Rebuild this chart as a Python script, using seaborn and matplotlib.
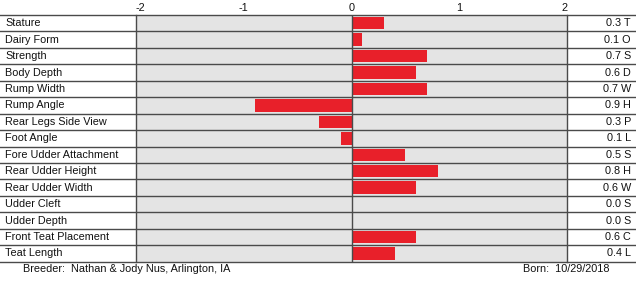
import matplotlib
matplotlib.use("Agg")
import matplotlib.pyplot as plt
import matplotlib.transforms as mtransforms
import seaborn as sns
import pandas as pd

traits = ["Stature", "Dairy Form", "Strength", "Body Depth", "Rump Width",
          "Rump Angle", "Rear Legs Side View", "Foot Angle",
          "Fore Udder Attachment", "Rear Udder Height", "Rear Udder Width",
          "Udder Cleft", "Udder Depth", "Front Teat Placement", "Teat Length"]
values = [0.3, 0.1, 0.7, 0.6, 0.7, -0.9, -0.3, -0.1, 0.5, 0.8, 0.6,
          0.0, 0.0, 0.6, 0.4]
right_labels = ["0.3 T", "0.1 O", "0.7 S", "0.6 D", "0.7 W", "0.9 H", "0.3 P",
                "0.1 L", "0.5 S", "0.8 H", "0.6 W", "0.0 S", "0.0 S", "0.6 C",
                "0.4 L"]
xticks = [-2, -1, 0, 1, 2]
breeder = "Breeder:  Nathan & Jody Nus, Arlington, IA"
born = "Born:  10/29/2018"

plt.rcParams['font.family'] = ['Liberation Sans', 'DejaVu Sans']
FS = 7.8
LINE = "#4a4a4a"

W, H = 636, 281
fig = plt.figure(figsize=(W / 100, H / 100), dpi=100)
ax = fig.add_axes([136 / W, 1 - 261.7 / H, (567 - 136) / W, (261.7 - 15) / H])
ax.set_facecolor("#e4e4e4")

df = pd.DataFrame({"trait": traits, "value": values})
sns.barplot(data=df, x="value", y="trait", orient="h", color="#e8202a",
            saturation=1, width=0.76, ax=ax, linewidth=0)

ax.set_xlim(-2, 2)
ax.set_ylim(len(traits) - 0.5, -0.5)
ax.set_xlabel("")
ax.set_ylabel("")
ax.set_yticks([])
ax.xaxis.tick_top()
ax.set_xticks(xticks)
ax.set_xticklabels([str(t) for t in xticks], fontsize=FS)
ticklabels = ax.get_xticklabels()
ticklabels[0].set_ha("left")
ticklabels[-1].set_ha("right")
ax.tick_params(axis="x", length=0, pad=1.5, colors="#111111")
for s in ["top", "bottom"]:
    ax.spines[s].set_visible(False)
for s in ["left", "right"]:
    ax.spines[s].set_color(LINE)
    ax.spines[s].set_linewidth(1)
ax.axvline(0, color=LINE, lw=1, zorder=3)

trans = mtransforms.blended_transform_factory(fig.transFigure, ax.transData)
for i in range(len(traits) + 1):
    ax.plot([0, 1], [i - 0.5, i - 0.5], transform=trans, color=LINE, lw=1,
            clip_on=False, zorder=4)
for i, (t, r) in enumerate(zip(traits, right_labels)):
    ax.text(5 / W, i, t, transform=trans, ha="left", va="center", fontsize=FS,
            color="#111111")
    ax.text(631 / W, i, r, transform=trans, ha="right", va="center",
            fontsize=FS, color="#111111")

fig.text(23 / W, 1 - 268.5 / H, breeder, ha="left", va="center", fontsize=FS,
         color="#111111")
fig.text(523 / W, 1 - 269.5 / H, born, ha="left", va="center", fontsize=FS,
         color="#111111")

fig.savefig("out.png", dpi=100)
